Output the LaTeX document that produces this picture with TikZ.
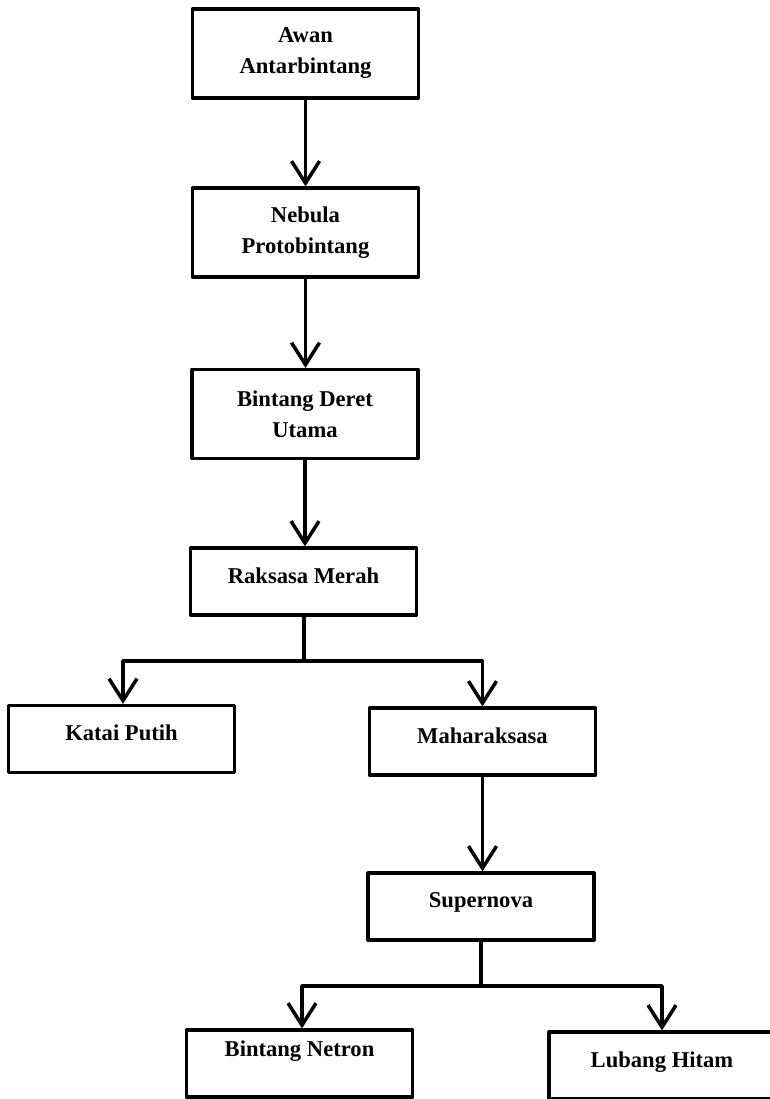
\documentclass[tikz,border=0pt]{standalone}
\usepackage{fontspec}
\setmainfont{Liberation Serif}
\usetikzlibrary{positioning, arrows.meta}

\begin{document}
\begin{tikzpicture}[
  x=1pt, y=-1pt,
  line width=3.5pt, line cap=round, line join=round,
  >={Straight Barb[length=22pt,width=28pt,line width=3.5pt]},
  stage/.style = {draw=black, line width=3.2pt, fill=white,
                  minimum width=226pt, inner sep=2pt, anchor=center,
                  font=\bfseries\fontsize{22.6}{31}\selectfont, align=center},
  stagetwo/.style = {stage, minimum height=89pt},
  stageone/.style = {stage, minimum height=67pt}
]
\useasboundingbox (0,0) rectangle (769,1099);

\node[stagetwo] (aw) at (305.5,53.5)  {Awan\\Antarbintang};
\node[stagetwo] (nb) at (305.5,232.5) {Nebula\\Protobintang};
\node[stagetwo] (bd) at (305,414)     {Bintang Deret\\Utama};
\node[stageone, text depth=12pt] (rm) at (303.5,581.5) {Raksasa Merah};
\node[stageone, text depth=12pt] (kp) at (121.5,739)   {Katai Putih};
\node[stageone, text depth=12pt] (mr) at (482.5,741.5) {Maharaksasa};
\node[stageone, text depth=12pt] (sn) at (481,906.5)   {Supernova};
\node[stageone, text depth=30pt] (bn) at (299.5,1063.5) {Bintang Netron};
\node[stageone, text depth=12pt] (lh) at (662,1065.5)  {Lubang Hitam};

% jalur utama
\draw[->] (aw.south) -- (nb.north);
\draw[->] (nb.south) -- (bd.north -| nb.south);
\draw[->] (bd.south) -- (rm.north -| bd.south);

% cabang raksasa merah
\coordinate (fork1) at (304,661);
\draw (rm.south -| fork1) -- (fork1);
\draw[->] (fork1) -| (kp.north -| 123,0);
\draw[->] (fork1) -| (mr.north);
\draw[->] (mr.south) -- (sn.north -| mr.south);

% cabang supernova
\coordinate (fork2) at (481,986);
\draw (sn.south) -- (fork2);
\draw[->] (fork2) -| (bn.north -| 302,0);
\draw[->] (fork2) -| (lh.north);

\end{tikzpicture}
\end{document}
